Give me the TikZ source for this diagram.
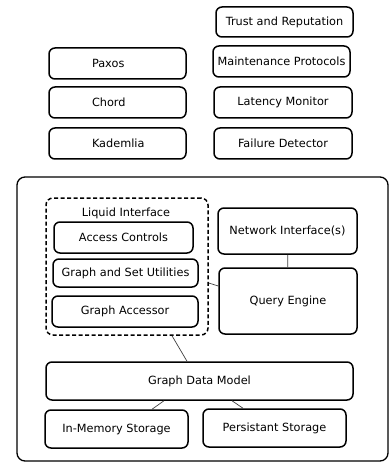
\documentclass[tikz,border=0pt]{standalone}
\usepackage{fontspec}
\setmainfont{DejaVu Sans}
\usepackage{tikz}
\usetikzlibrary{positioning, calc}

\begin{document}
\begin{tikzpicture}[x=1pt, y=-1pt,
    blk/.style={draw, rounded corners=6pt, line width=1.5pt, inner sep=0pt,
        font=\fontsize{11.3pt}{13pt}\selectfont, align=center},
    lblk/.style={blk, text width=51pt, align=left},
    link/.style={draw=black!75, line width=0.7pt}]
    \useasboundingbox (0,0) rectangle (389,462);

    % overlay services
    \node[blk, minimum width=137pt, minimum height=30pt] (trust) at (284.5,22) {Trust and Reputation};
    \node[blk, minimum width=137pt, minimum height=31pt] (maint) at (281.5,61.5) {Maintenance Protocols};
    \node[blk, minimum width=138pt, minimum height=31pt] (latency) at (283,102.5) {Latency Monitor};
    \node[blk, minimum width=138pt, minimum height=31pt] (failure) at (283,143.5) {Failure Detector};

    \node[lblk, minimum width=137pt, minimum height=31pt] (paxos) at (117.5,63.5) {Paxos};
    \node[lblk, minimum width=137pt, minimum height=31pt] (chord) at (117.5,102.5) {Chord};
    \node[lblk, minimum width=137pt, minimum height=31pt] (kademlia) at (117.5,143.5) {Kademlia};

    % the node itself
    \draw[line width=1.3pt, rounded corners=8pt] (17,177) rectangle (388,461);

    \node[draw, dash pattern=on 4pt off 2.5pt, line width=1.5pt, rounded corners=7pt,
        minimum width=162pt, minimum height=137pt] (liquid) at (127,266.5) {};
    \node[font=\fontsize{11.3pt}{13pt}\selectfont] (liquidlbl) at (126,213) {Liquid Interface};
    \node[blk, minimum width=139pt, minimum height=31pt] (access) at (123.5,237.5) {Access Controls};
    \node[blk, minimum width=145pt, minimum height=28pt] (utils) at (125.5,273) {Graph and Set Utilities};
    \node[blk, minimum width=146pt, minimum height=31pt] (accessor) at (125,311.5) {Graph Accessor};

    \node[blk, minimum width=139pt, minimum height=46pt] (netif) at (287.5,231) {Network Interface(s)};
    \node[blk, minimum width=138pt, minimum height=66pt] (query) at (288,301) {Query Engine};

    \node[blk, minimum width=307pt, minimum height=38pt] (gdm) at (199.5,381) {Graph Data Model};
    \node[blk, minimum width=143pt, minimum height=38pt] (inmem) at (116.5,429) {In-Memory Storage};
    \node[blk, minimum width=143pt, minimum height=38pt] (persist) at (274.5,428) {Persistant Storage};

    % links
    \draw[link] (netif) -- (query);
    \draw[link] ([yshift=-16.5pt]liquid.east) -- ([yshift=15pt]query.west);
    \draw[link] ([xshift=45pt]liquid.south) -- ([xshift=-12.5pt]gdm.north);
    \draw[link] ([xshift=-35.5pt]gdm.south) -- ([xshift=35.5pt]inmem.north);
    \draw[link] ([xshift=32.5pt]gdm.south) -- ([xshift=-31.5pt]persist.north);
\end{tikzpicture}
\end{document}
